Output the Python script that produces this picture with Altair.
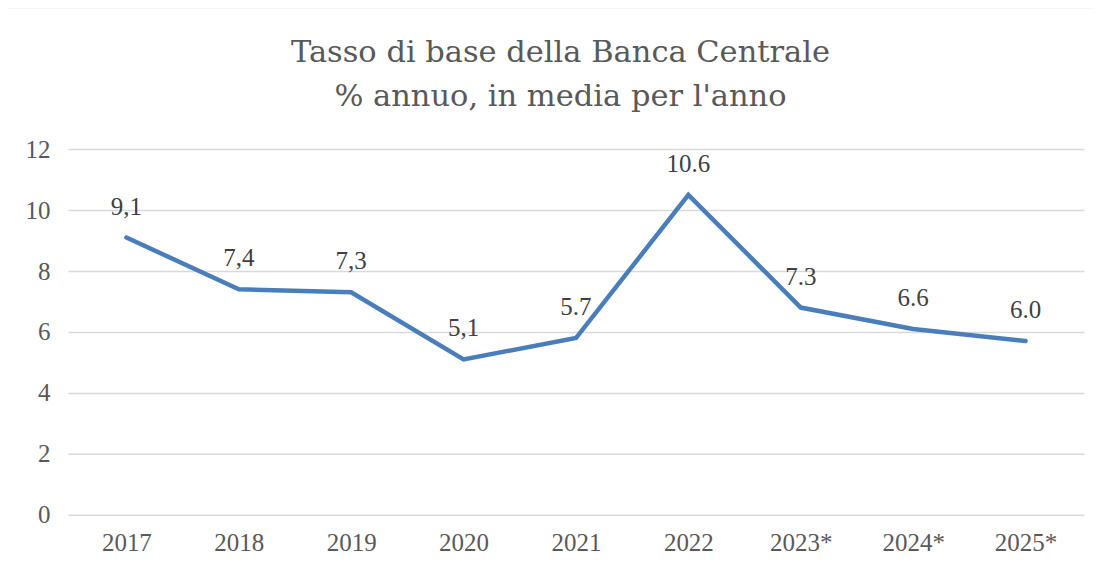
import altair as alt
import pandas as pd

years = ["2017", "2018", "2019", "2020", "2021", "2022", "2023*", "2024*", "2025*"]
values = [9.1, 7.4, 7.3, 5.1, 5.8, 10.5, 6.8, 6.1, 5.7]
labels = ["9,1", "7,4", "7,3", "5,1", "5.7", "10.6", "7.3", "6.6", "6.0"]
title_lines = ["Tasso di base della Banca Centrale", "% annuo, in media per l'anno"]

df = pd.DataFrame({"year": years, "value": values, "label": labels})
one = pd.DataFrame({"k": [0]})

FONT = "Liberation Serif"
TFONT = "DejaVu Serif"

x = alt.X("year:N", sort=years, title=None,
          scale=alt.Scale(type="point", padding=0.52),
          axis=alt.Axis(labelAngle=0, labelFontSize=25, labelColor="#595959",
                        labelFont=FONT, labelPadding=16, ticks=False, domain=False, grid=False))
y = alt.Y("value:Q", title=None,
          scale=alt.Scale(domain=[0, 12], nice=False),
          axis=alt.Axis(values=[0, 2, 4, 6, 8, 10, 12], labelFontSize=25, labelColor="#595959",
                        labelFont=FONT, labelPadding=18, ticks=False, domain=False,
                        gridColor="#D9D9D9", gridWidth=1.5))

line = alt.Chart(df).mark_line(color="#4A7EBB", strokeWidth=4.5, strokeCap="round",
                               strokeJoin="miter").encode(x=x, y=y)

text = alt.Chart(df).mark_text(dy=-31, fontSize=25, font=FONT, color="#404040").encode(
    x=alt.X("year:N", sort=years), y="value:Q", text="label:N")

title1 = alt.Chart(one).mark_text(fontSize=30.5, font=TFONT, fontWeight="normal", color="#595959",
                                  baseline="alphabetic", align="center", clip=False).encode(
    x=alt.value(493), y=alt.value(-87), text=alt.value(title_lines[0]))
title2 = alt.Chart(one).mark_text(fontSize=30.5, font=TFONT, fontWeight="normal", color="#595959",
                                  baseline="alphabetic", align="center", clip=False).encode(
    x=alt.value(493), y=alt.value(-43), text=alt.value(title_lines[1]))

border_left = alt.Chart(one).mark_rule(color="#D9D9D9", strokeWidth=2, clip=False).encode(
    x=alt.value(-63), y=alt.value(-142), y2=alt.value(500))
border_top = alt.Chart(one).mark_rule(color="#D9D9D9", strokeWidth=2, clip=False).encode(
    x=alt.value(-63), x2=alt.value(1100), y=alt.value(-142))

chart = alt.layer(border_left, border_top, title1, title2, line, text).properties(
    width=1017, height=366,
    autosize=alt.AutoSizeParams(type="none"),
    padding={"left": 60, "top": 141, "right": 10, "bottom": 40},
).configure_view(stroke=None)

chart.save("out.html", embed_options={"renderer": "svg", "actions": False})
